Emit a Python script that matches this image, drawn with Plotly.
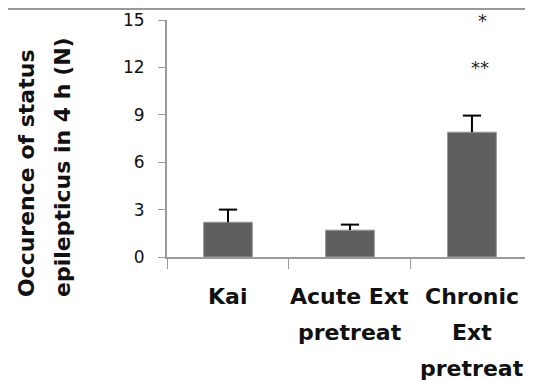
import plotly.graph_objects as go

categories = ["Kai", "Acute Ext", "Chronic"]
label_lines = [["Kai"], ["Acute Ext", "pretreat"], ["Chronic", "Ext", "pretreat"]]
values = [2.2, 1.7, 7.9]
errors = [0.8, 0.35, 1.05]
sig_marks = [("*", 15.0), ("**", 12.0)]
y_ticks = [0, 3, 6, 9, 12, 15]
title_lines = ["Occurence of status", "epilepticus in 4 h (N)"]

FONT = "DejaVu Sans, sans-serif"
W, H = 533, 381
# the page body adds an 8px offset; margins compensate for it
ml, mt, mb, mr = 159, 12, 132, 0

tops = [v + e for v, e in zip(values, errors)]
mids = [v + e / 2 for v, e in zip(values, errors)]
halves = [e / 2 for e in errors]

fig = go.Figure()
fig.add_trace(go.Bar(
    x=categories, y=values, width=0.4,
    marker=dict(color="#5f5f5f", line=dict(color="#9a9a9a", width=1)),
))
# error stems (upper only)
fig.add_trace(go.Scatter(
    x=categories, y=mids, mode="markers", marker=dict(size=0.1, color="black", opacity=0),
    error_y=dict(type="data", array=halves, symmetric=True, color="black", thickness=2, width=0),
))
# error caps
fig.add_trace(go.Scatter(
    x=categories, y=tops, mode="markers",
    marker=dict(symbol="line-ew", size=13, line=dict(color="black", width=2)),
))

annotations = []
for cat, lines in zip(categories, label_lines):
    for i, t in enumerate(lines):
        annotations.append(dict(x=cat, xref="x", y=0, yref="paper", text=f"<b>{t}</b>",
                                showarrow=False, yanchor="middle", xanchor="center",
                                yshift=-39 - 36*i, font=dict(family=FONT, size=22, color="#111")))
for (txt, yv), xs in zip(sig_marks, [11, 8]):
    annotations.append(dict(x=categories[2], xref="x", y=yv, yref="y", text=txt, showarrow=False,
                            xshift=xs, yshift=0, font=dict(family=FONT, size=18, color="#222")))
for i, (t, yc) in enumerate(zip(title_lines, [0.354, 0.38])):
    annotations.append(dict(x=0, xref="paper", y=yc, yref="paper", text=f"<b>{t}</b>",
                            showarrow=False, textangle=-90, xanchor="center", yanchor="middle",
                            xshift=-141 + 37*i, font=dict(family=FONT, size=22, color="#111")))

fig.update_layout(
    width=W, height=H, margin=dict(l=ml, r=mr, t=mt, b=mb),
    plot_bgcolor="white", paper_bgcolor="white", showlegend=False,
    annotations=annotations,
    shapes=[dict(type="line", xref="paper", yref="paper", x0=-1, x1=2, y0=1.046, y1=1.046,
                 line=dict(color="#999", width=2))],
    xaxis=dict(range=[-0.5, 2.566], showticklabels=False, showline=True, linecolor="#9a9a9a",
               linewidth=2, ticks="outside", tickson="boundaries", ticklen=10, tickcolor="#9a9a9a",
               showgrid=False, zeroline=False),
    yaxis=dict(range=[0, 15], tickvals=y_ticks, showline=True, linecolor="#9a9a9a", linewidth=2,
               ticks="outside", ticklen=7, tickcolor="#9a9a9a", showgrid=False, zeroline=False,
               tickfont=dict(family=FONT, size=17, color="#111"), ticklabelstandoff=10),
)
fig.write_html("out.html")
